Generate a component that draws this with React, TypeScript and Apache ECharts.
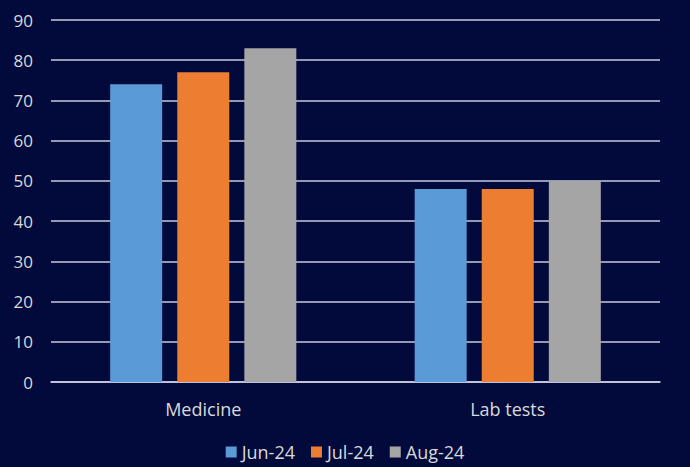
import React, { useEffect, useRef } from "react";
import * as echarts from "echarts";

const categories = ["Medicine", "Lab tests"];
const seriesNames = ["Jun-24", "Jul-24", "Aug-24"];
const jun24 = [74, 48];
const jul24 = [77, 48];
const aug24 = [83, 50];
const colors = ["#5b9bd5", "#ed7d31", "#a5a5a5"];

export default function App() {
  const ref = useRef<HTMLDivElement>(null);
  useEffect(() => {
    document.body.style.margin = "0";
    const chart = echarts.init(ref.current!, null, { renderer: "svg" });
    const font = "Open Sans, Noto Sans, sans-serif";
    const values = [jun24, jul24, aug24];
    chart.setOption({
      animation: false,
      backgroundColor: "#020a3b",
      textStyle: { fontFamily: font },
      grid: { left: 51, right: 30, top: 20, bottom: 85, containLabel: false },
      legend: {
        bottom: 0,
        left: "center",
        itemWidth: 11,
        itemHeight: 11,
        itemGap: 16,
        icon: "rect",
        textStyle: { color: "#d9d9d9", fontSize: 18, lineHeight: 20, fontFamily: font, padding: [0, 0, 0, 0] },
        data: seriesNames,
      },
      xAxis: {
        type: "category",
        data: categories,
        axisLine: { lineStyle: { color: "#d0d0e6", width: 1.5 } },
        axisTick: { show: false },
        axisLabel: { color: "#d9d9d9", fontSize: 18, margin: 18, fontFamily: font },
      },
      yAxis: {
        type: "value",
        min: 0,
        max: 90,
        interval: 10,
        axisLine: { show: false },
        axisTick: { show: false },
        axisLabel: { color: "#d9d9d9", fontSize: 17, margin: 18, fontFamily: font },
        splitLine: { lineStyle: { color: "#c8c8e2", width: 1.5 } },
      },
      series: seriesNames.map((name, i) => ({
        name,
        type: "bar",
        data: values[i],
        itemStyle: { color: colors[i] },
        barWidth: 52,
        barGap: "29%",
      })),
    });
    return () => chart.dispose();
  }, []);
  return <div ref={ref} style={{ width: 690, height: 467 }} />;
}
